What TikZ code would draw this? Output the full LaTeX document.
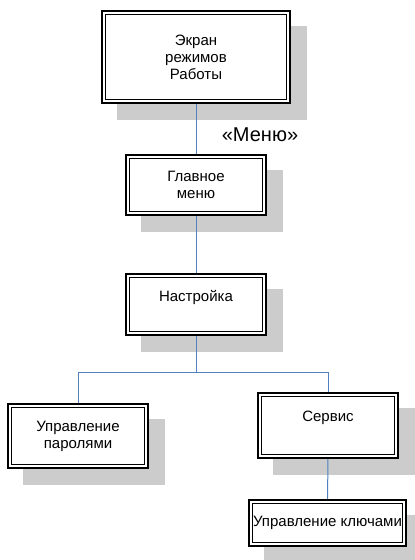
\documentclass[tikz,border=0pt]{standalone}
\usepackage{fontspec}
\setmainfont{Liberation Sans}
\usetikzlibrary{backgrounds}
\definecolor{shadowgray}{RGB}{204,204,204}
\definecolor{linkblue}{RGB}{79,129,189}
\begin{document}
\begin{tikzpicture}[x=1pt,y=-1pt,
  box/.style={draw=black, line width=2pt, fill=white, inner sep=0pt, outer sep=0pt, align=center, font=\fontsize{15}{17}\selectfont},
  link/.style={draw=linkblue, line width=1pt},
  innerframe/.style={draw=black, line width=0.8pt}]
\useasboundingbox (0,0) rectangle (415,560);
\node[box, minimum width=188pt, minimum height=92pt] (b1) at (196,57) {Экран\\режимов\\Работы};
\node[box, minimum width=140pt, minimum height=60pt] (b2) at (196,185) {Главное\\меню};
\node[box, minimum width=140pt, minimum height=61pt] (b3) at (196,304.5) {\raisebox{7.5pt}[\height][\depth]{Настройка}};
\node[box, minimum width=140pt, minimum height=64pt] (b4) at (78,436) {Управление\\паролями};
\node[box, minimum width=140pt, minimum height=65pt] (b5) at (328,425.5) {\raisebox{8pt}[\height][\depth]{Сервис}};
\node[box, minimum width=157pt, minimum height=46pt] (b6) at (327.5,523) {Управление ключами};
\node[font=\fontsize{20}{24}\selectfont] (menu) at (260,134.5) {«Меню»};
\foreach \n in {b1,b2,b3,b4,b5,b6}
  \draw[innerframe] ([shift={(3.5,3.5)}]\n.north west) rectangle ([shift={(-3.5,-3.5)}]\n.south east);
\coordinate (j) at (196,372);
\begin{scope}[on background layer]
\foreach \n in {b1,b2,b3,b4,b5,b6}
  \fill[shadowgray] ([shift={(15,15)}]\n.north west) rectangle ([shift={(17,17)}]\n.south east);
\draw[link] (b1.south) -- (b2.north);
\draw[link] (b2.south) -- (b3.north);
\draw[link] (b3.south) -- (j);
\draw[link] (j) -| (b4.north);
\draw[link] (j) -| (b5.north);
\draw[link] (b5.south) -- (b6.north);
\end{scope}
\end{tikzpicture}
\end{document}
